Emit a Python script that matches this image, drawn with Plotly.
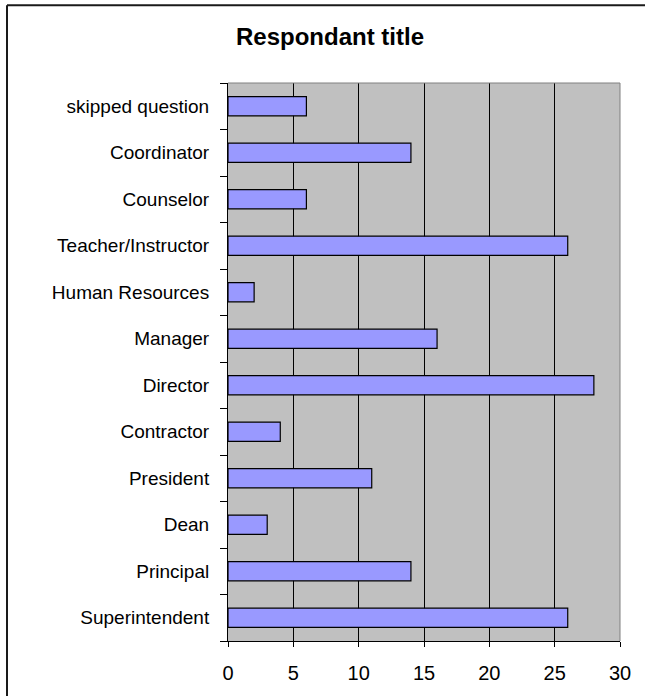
import plotly.graph_objects as go

categories = ["Superintendent", "Principal", "Dean", "President", "Contractor",
              "Director", "Manager", "Human Resources", "Teacher/Instructor",
              "Counselor", "Coordinator", "skipped question"]
counts = [26, 14, 3, 11, 4, 28, 16, 2, 26, 6, 14, 6]
x_ticks = [0, 5, 10, 15, 20, 25, 30]
title_text = "Respondant title"

W, H = 645, 696
L, R, T, B = 228, 25, 83, 53
pw, ph = W - L - R, H - T - B

def px_x(p):
    return (p - L) / pw

def px_y(p):
    return (H - B - p) / ph

fig = go.Figure(go.Bar(
    x=counts, y=categories, orientation="h",
    marker=dict(color="#9999FF", line=dict(color="black", width=1.2)),
))

fig.update_layout(
    width=W, height=H,
    margin=dict(l=L, r=R, t=T, b=B, pad=0),
    paper_bgcolor="white", plot_bgcolor="#C0C0C0",
    font=dict(family="Liberation Sans, Arial, sans-serif", size=19, color="black"),
    bargap=0.59, showlegend=False,
    title=dict(text="<b>" + title_text + "</b>", x=330 / W,
               xanchor="center", y=1 - 37 / H, yanchor="middle",
               font=dict(size=24, color="black")),
)
fig.update_xaxes(range=[0, 30], tickvals=x_ticks, showgrid=True, gridcolor="black",
                 gridwidth=1, zeroline=False, showline=True, linecolor="black",
                 linewidth=1, ticks="outside", ticklen=5, tickcolor="black",
                 tickfont=dict(size=20), ticklabelstandoff=9)
fig.update_yaxes(type="category", showgrid=False, showline=True, linecolor="black",
                 linewidth=1, ticks="outside", ticklen=7, tickcolor="black",
                 tickson="boundaries", ticklabelstandoff=14, tickfont=dict(size=19))

# plot area border (top and right, gray)
fig.add_shape(type="line", xref="paper", yref="paper", x0=0, x1=1, y0=1, y1=1,
              line=dict(color="#808080", width=1))
fig.add_shape(type="line", xref="paper", yref="paper", x0=1, x1=1, y0=0, y1=1,
              line=dict(color="#808080", width=1))
# chart outer frame (top and left visible)
fig.add_shape(type="line", xref="paper", yref="paper", x0=px_x(7), x1=px_x(700),
              y0=px_y(5), y1=px_y(5), line=dict(color="#1a1a1a", width=2))
fig.add_shape(type="line", xref="paper", yref="paper", x0=px_x(7), x1=px_x(7),
              y0=px_y(5), y1=px_y(760), line=dict(color="#1a1a1a", width=2))

fig.write_html("out.html", config={"displayModeBar": False},
               post_script="document.body.style.margin='0';")
